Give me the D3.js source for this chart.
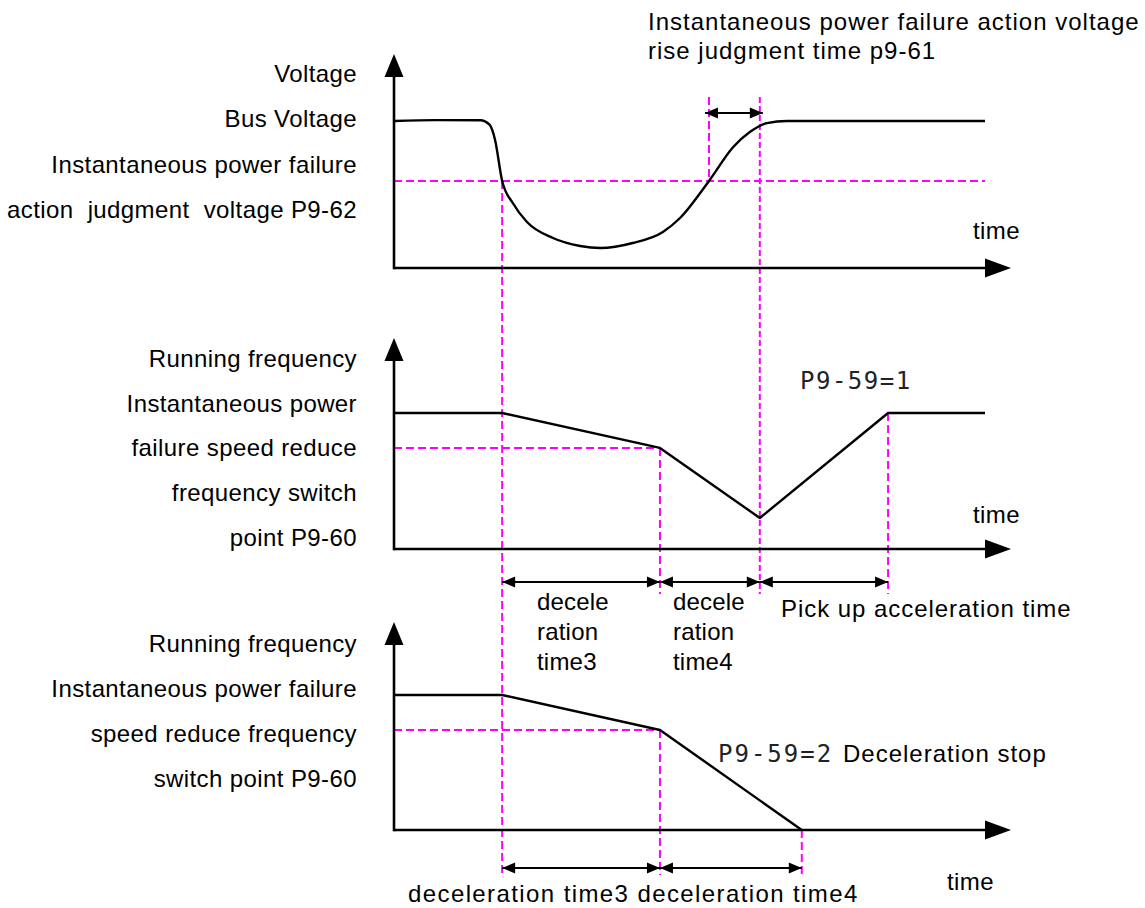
<!DOCTYPE html>
<html>
<head>
<meta charset="utf-8">
<script src="https://cdn.jsdelivr.net/npm/d3@7"></script>
<style>
  html, body { margin: 0; padding: 0; background: #fff; }
  svg { display: block; }
  text { font-family: "Liberation Sans", Arial, sans-serif; fill: #000; }
  .cad { font-family: "DejaVu Sans Mono", monospace; fill: #222; }
</style>
</head>
<body>
<svg id="chart" width="1145" height="908"></svg>
<script>
// ---------------- data (time in 0..100 units, values in % of nominal) ----------------
const busVoltageTime  = [0, 7, 14.6, 16.2, 17.1, 18.3, 20.1, 22.5, 26.9, 31.5, 34.9, 40.4, 45.5, 48.4, 53.3, 57.4, 60.2, 63.1, 66.5, 75, 88, 100];
const busVoltageValue = [100, 100.6, 100.5, 97.3, 87.1, 59.2, 44.2, 31.3, 20.4, 15.0, 13.6, 17.0, 24.5, 34.0, 59.2, 82.3, 92.5, 98.6, 100, 100, 100, 100];

const freqPickupTime  = [0, 18.3, 45.0, 61.9, 83.6, 100];
const freqPickupValue = [100, 100, 74.3, 22.8, 100, 100];

const freqStopTime  = [0, 18.3, 45.0, 69.0];
const freqStopValue = [100, 100, 74.1, 0];

const judgeVoltage = 59.2;          // P9-62
const switchFreq   = [74.3, 74.1];  // P9-60 in panel 2 / panel 3

// key moments
const tDrop      = 18.3;  // voltage falls below P9-62
const tSwitch    = 45.0;  // switch point P9-60 reached
const tRiseJudge = 53.3;  // voltage rises above P9-62
const tRecover   = 61.9;  // after p9-61
const tPickEnd   = 83.6;  // pick-up acceleration finished
const tStop      = 69.0;  // deceleration stop

// texts
const panel1Labels = ["Voltage", "Bus Voltage", "Instantaneous power failure", "action  judgment  voltage P9-62"];
const panel2Labels = ["Running frequency", "Instantaneous power", "failure speed reduce", "frequency switch", "point P9-60"];
const panel3Labels = ["Running frequency", "Instantaneous power failure", "speed reduce frequency", "switch point P9-60"];
const titleLines   = ["Instantaneous power failure action voltage", "rise judgment time p9-61"];
const decel3Lines  = ["decele", "ration", "time3"];
const decel4Lines  = ["decele", "ration", "time4"];

// ---------------- layout ----------------
const svg = d3.select("#chart");
const MAG = "#ff00ff";
const x = d3.scaleLinear().domain([0, 100]).range([394, 985]);
const layout = [
  { tip: 54,  y0: 268, y100: 121 },
  { tip: 338, y0: 549, y100: 413 },
  { tip: 622, y0: 830, y100: 695 }
];
const ys = layout.map(l => d3.scaleLinear().domain([0, 100]).range([l.y0, l.y100]));

function dashed(x1, y1, x2, y2, dash) {
  svg.append("line").attr("x1", x1).attr("y1", y1).attr("x2", x2).attr("y2", y2)
    .attr("stroke", MAG).attr("stroke-width", 2).attr("stroke-dasharray", dash || "8,4");
}
function tri(points) {
  svg.append("polygon").attr("points", points.map(p => p.join(",")).join(" ")).attr("fill", "#000");
}
function dimArrow(xa, xb, yy) {
  const L = 13, H = 5.5;
  svg.append("line").attr("x1", xa).attr("x2", xb).attr("y1", yy).attr("y2", yy)
    .attr("stroke", "#000").attr("stroke-width", 2);
  tri([[xa, yy], [xa + L, yy - H], [xa + L, yy + H]]);
  tri([[xb, yy], [xb - L, yy - H], [xb - L, yy + H]]);
}
function axes(i) {
  const l = layout[i], y = ys[i];
  const xStart = x(0), xEnd = x(100);
  svg.append("line").attr("x1", xStart).attr("x2", xEnd).attr("y1", y(0)).attr("y2", y(0))
    .attr("stroke", "#000").attr("stroke-width", 2.6);
  tri([[xEnd + 26, y(0)], [xEnd, y(0) - 9.5], [xEnd, y(0) + 9.5]]);
  svg.append("line").attr("x1", xStart).attr("x2", xStart).attr("y1", y(0) + 1.3).attr("y2", l.tip + 22)
    .attr("stroke", "#000").attr("stroke-width", 2.6);
  tri([[xStart, l.tip], [xStart - 9.5, l.tip + 23], [xStart + 9.5, l.tip + 23]]);
}
function curve(ts, vs, y, curveType) {
  const pts = ts.map((t, i) => [t, vs[i]]);
  svg.append("path").datum(pts)
    .attr("d", d3.line().x(d => x(d[0])).y(d => y(d[1])).curve(curveType || d3.curveLinear))
    .attr("fill", "none").attr("stroke", "#000").attr("stroke-width", 2.4).attr("stroke-linejoin", "round");
}
function label(lines, xr, yFirst, step, anchor, ls) {
  lines.forEach((s, i) => {
    svg.append("text").attr("x", xr).attr("y", yFirst + i * step)
      .attr("text-anchor", anchor || "end").attr("font-size", 24)
      .attr("style", "white-space:pre").attr("letter-spacing", ls == null ? 0.4 : ls)
      .text(s);
  });
}

// ---------------- magenta guides ----------------
const y1 = ys[0], y2 = ys[1], y3 = ys[2];
dashed(x(0), y1(judgeVoltage), x(100), y1(judgeVoltage));
dashed(x(tDrop), y1(judgeVoltage), x(tDrop), 875);
dashed(x(tRiseJudge), 97, x(tRiseJudge), y1(judgeVoltage));
dashed(x(tRecover), 97, x(tRecover), 594, "6,3");
dashed(x(0), y2(switchFreq[0]), x(tSwitch), y2(switchFreq[0]));
dashed(x(tSwitch), y2(switchFreq[0]), x(tSwitch), 594);
dashed(x(tPickEnd), y2(100), x(tPickEnd), 594);
dashed(x(0), y3(switchFreq[1]), x(tSwitch), y3(switchFreq[1]));
dashed(x(tSwitch), y3(switchFreq[1]), x(tSwitch), 875);
dashed(x(tStop), y3(0), x(tStop), 875);

// ---------------- axes & curves ----------------
axes(0); axes(1); axes(2);
curve(busVoltageTime, busVoltageValue, y1, d3.curveMonotoneX);
curve(freqPickupTime, freqPickupValue, y2);
curve(freqStopTime, freqStopValue, y3);

// ---------------- dimension arrows ----------------
dimArrow(x(tRiseJudge) - 4, x(tRecover) + 3, 113);
dimArrow(x(tDrop), x(tSwitch), 582);
dimArrow(x(tSwitch), x(tRecover), 582);
dimArrow(x(tRecover), x(tPickEnd), 582);
dimArrow(x(tDrop), x(tSwitch), 868);
dimArrow(x(tSwitch), x(tStop), 868);

// ---------------- texts ----------------
label(panel1Labels, 357, 82, 45.3);
label(panel2Labels, 357, 367, 44.7);
label(panel3Labels, 357, 652, 45);
label(titleLines, 648, 30, 28.5, "start", 1.0);
label(decel3Lines, 537, 610, 30, "start", 0.2);
label(decel4Lines, 673, 610, 30, "start", 0.2);
label(["Pick up acceleration time"], 781, 617, 0, "start", 0.95);
label(["time"], 973, 239, 0, "start");
label(["time"], 973, 523, 0, "start");
label(["time"], 947, 890, 0, "start");
label(["deceleration time3 deceleration time4"], 408, 902, 0, "start", 1.4);

svg.append("text").attr("class", "cad").attr("x", 800).attr("y", 389)
  .attr("font-size", 24).attr("letter-spacing", 1.5).text("P9-59=1");
const t2 = svg.append("text").attr("x", 718).attr("y", 762).attr("font-size", 24);
t2.append("tspan").attr("class", "cad").attr("letter-spacing", 2).text("P9-59=2");
t2.append("tspan").attr("x", 843).attr("letter-spacing", 1.0).text("Deceleration stop");
</script>
</body>
</html>
